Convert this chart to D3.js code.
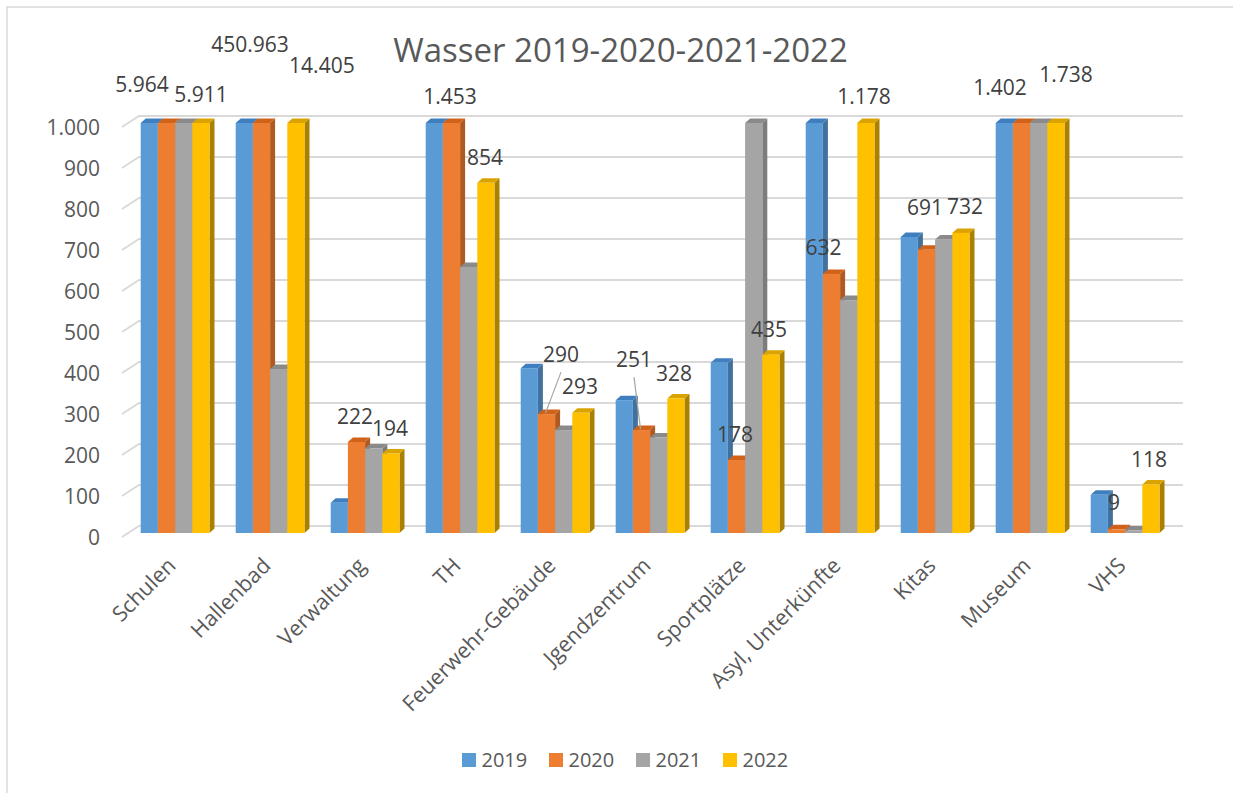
<!DOCTYPE html>
<html>
<head>
<meta charset="utf-8">
<script src="https://cdn.jsdelivr.net/npm/d3@7"></script>
<style>
  html, body { margin: 0; padding: 0; background: #ffffff; }
  svg { display: block; font-family: "Open Sans", "Noto Sans", sans-serif; }
</style>
</head>
<body>
<svg id="chart" width="1233" height="793"></svg>
<script>
// Wasserverbrauch je Liegenschaft, 2019–2022 (Achse bei 1.000 gekappt)
const categories = ["Schulen", "Hallenbad", "Verwaltung", "TH", "Feuerwehr-Gebäude",
  "Jgendzentrum", "Sportplätze", "Asyl, Unterkünfte", "Kitas", "Museum", "VHS"];
const seriesNames = ["2019", "2020", "2021", "2022"];
const values2019 = [6350, 452000, 74, 1520, 402, 324, 415, 1240, 722, 1460, 93];
const values2020 = [5964, 450963, 222, 1453, 290, 251, 178, 632, 691, 1402, 9];
const values2021 = [5820, 400, 206, 649, 251, 233, 1090, 568, 716, 1650, 6];
const values2022 = [5911, 14405, 194, 854, 293, 328, 435, 1178, 732, 1738, 118];
const yTicks = [0, 100, 200, 300, 400, 500, 600, 700, 800, 900, 1000];
const labelledSeries = ["2020", "2022"];

// Colours per series: front, top and side faces of the 3D columns
const colors = {
  "2019": { front: "#5b9bd5", top: "#3f7fc0", side: "#41719c" },
  "2020": { front: "#ed7d31", top: "#d0621a", side: "#ae5a21" },
  "2021": { front: "#a5a5a5", top: "#8a8a8a", side: "#7c7c7c" },
  "2022": { front: "#ffc000", top: "#dba300", side: "#a98000" }
};

// Manual offsets of the value labels (dx from column centre, dy from column top)
const labelShift = {
  "2020": [[-24.5, -31], [-11.5, -71], [-1.5, -18], [-1.5, -19], [14.5, -52], [-7.5, -63],
           [-1.5, -18], [-8, -19], [-1.5, -35], [-21.5, -28], [-2.5, -19]],
  "2022": [[0, -21], [26, -50], [-1, -17.5], [-1, -18], [-1, -19], [-2, -17.5],
           [-2, -17.7], [-2, -19], [4, -19], [10, -41], [-2, -17.6]]
};
const leaderLines2020 = ["Feuerwehr-Gebäude", "Jgendzentrum"];

const valuesBySeries = { "2019": values2019, "2020": values2020, "2021": values2021, "2022": values2022 };

const de = d3.formatLocale({ decimal: ",", thousands: ".", grouping: [3], currency: ["", " €"] });
const fmt = de.format(",d");

const svg = d3.select("#chart");
const textColor = "#595959";
const gridColor = "#d9d9d9";

// chart area frame
svg.append("rect")
  .attr("x", 7).attr("y", 7).attr("width", 1250).attr("height", 810)
  .attr("fill", "#ffffff").attr("stroke", gridColor).attr("stroke-width", 1.5);

// scales
const x = d3.scaleBand().domain(categories).range([127.6, 1172.6]).paddingInner(0).paddingOuter(0);
const xInner = d3.scaleBand().domain(seriesNames).range([13.1, 81.9]).padding(0);
const y = d3.scaleLinear().domain([0, 1000]).range([533, 123]).clamp(true);

const depthX = 5, depthY = 4.5;
const wallX0 = 122, wallX1 = 139, gridRight = 1183;

// gridlines: short diagonal on the side wall, then the back wall line
const grid = svg.append("g").attr("class", "grid");
yTicks.forEach(t => {
  const yf = y(t) + 4, yb = y(t) - 7;
  grid.append("path")
    .attr("d", `M${wallX0},${yf}L${wallX1},${yb}L${gridRight},${yb}`)
    .attr("fill", "none").attr("stroke", gridColor).attr("stroke-width", 1.8);
});

// y axis labels
svg.append("g").selectAll("text").data(yTicks).join("text")
  .attr("x", 100).attr("y", d => y(d) + 4).attr("dy", "0.36em")
  .attr("text-anchor", "end").attr("font-size", 21).attr("fill", textColor)
  .text(d => fmt(d));

// columns
const bars = svg.append("g").attr("class", "bars");
const w = xInner.bandwidth();
categories.forEach((cat, ci) => {
  seriesNames.forEach(s => {
    const v = valuesBySeries[s][ci];
    const x0 = x(cat) + xInner(s), x1 = x0 + w;
    const top = y(v), bottom = y(0);
    const c = colors[s];
    const g = bars.append("g");
    g.append("path")
      .attr("d", `M${x1},${top}L${x1 + depthX},${top - depthY}L${x1 + depthX},${bottom - depthY}L${x1},${bottom}Z`)
      .attr("fill", c.side);
    g.append("path")
      .attr("d", `M${x0},${top}L${x0 + depthX},${top - depthY}L${x1 + depthX},${top - depthY}L${x1},${top}Z`)
      .attr("fill", c.top);
    g.append("rect")
      .attr("x", x0).attr("y", top).attr("width", w).attr("height", bottom - top)
      .attr("fill", c.front);
  });
});

// value labels for 2020 and 2022
const labels = svg.append("g").attr("class", "labels");
labelledSeries.forEach(s => {
  categories.forEach((cat, ci) => {
    const v = valuesBySeries[s][ci];
    const cx = x(cat) + xInner(s) + w / 2;
    const top = y(v);
    const [dx, dy] = labelShift[s][ci];
    const lx = cx + dx, ly = top + dy;
    if (s === "2020" && leaderLines2020.includes(cat)) {
      labels.append("line")
        .attr("x1", lx).attr("y1", ly + 10).attr("x2", cx - 1).attr("y2", top - 1)
        .attr("stroke", "#a6a6a6").attr("stroke-width", 1.2);
    }
    labels.append("text")
      .attr("x", lx).attr("y", ly)
      .attr("text-anchor", "middle").attr("font-size", 21).attr("fill", "#404040")
      .text(fmt(v));
  });
});

// category labels
svg.append("g").selectAll("text").data(categories).join("text")
  .attr("transform", d => `translate(${x(d) + x.bandwidth() / 2 + 2},${567}) rotate(-45)`)
  .attr("text-anchor", "end").attr("font-size", 21.5).attr("fill", textColor)
  .text(d => d);

// title
svg.append("text")
  .attr("x", 620.5).attr("y", 62).attr("text-anchor", "middle")
  .attr("font-size", 33).attr("fill", textColor)
  .text("Wasser 2019-2020-2021-2022");

// legend
const legend = svg.append("g").attr("class", "legend");
seriesNames.forEach((s, i) => {
  const lx = 462 + i * 87;
  legend.append("rect").attr("x", lx).attr("y", 753).attr("width", 14).attr("height", 14)
    .attr("fill", colors[s].front);
  legend.append("text").attr("x", lx + 19.5).attr("y", 767)
    .attr("font-size", 20).attr("fill", textColor).text(s);
});
</script>
</body>
</html>
